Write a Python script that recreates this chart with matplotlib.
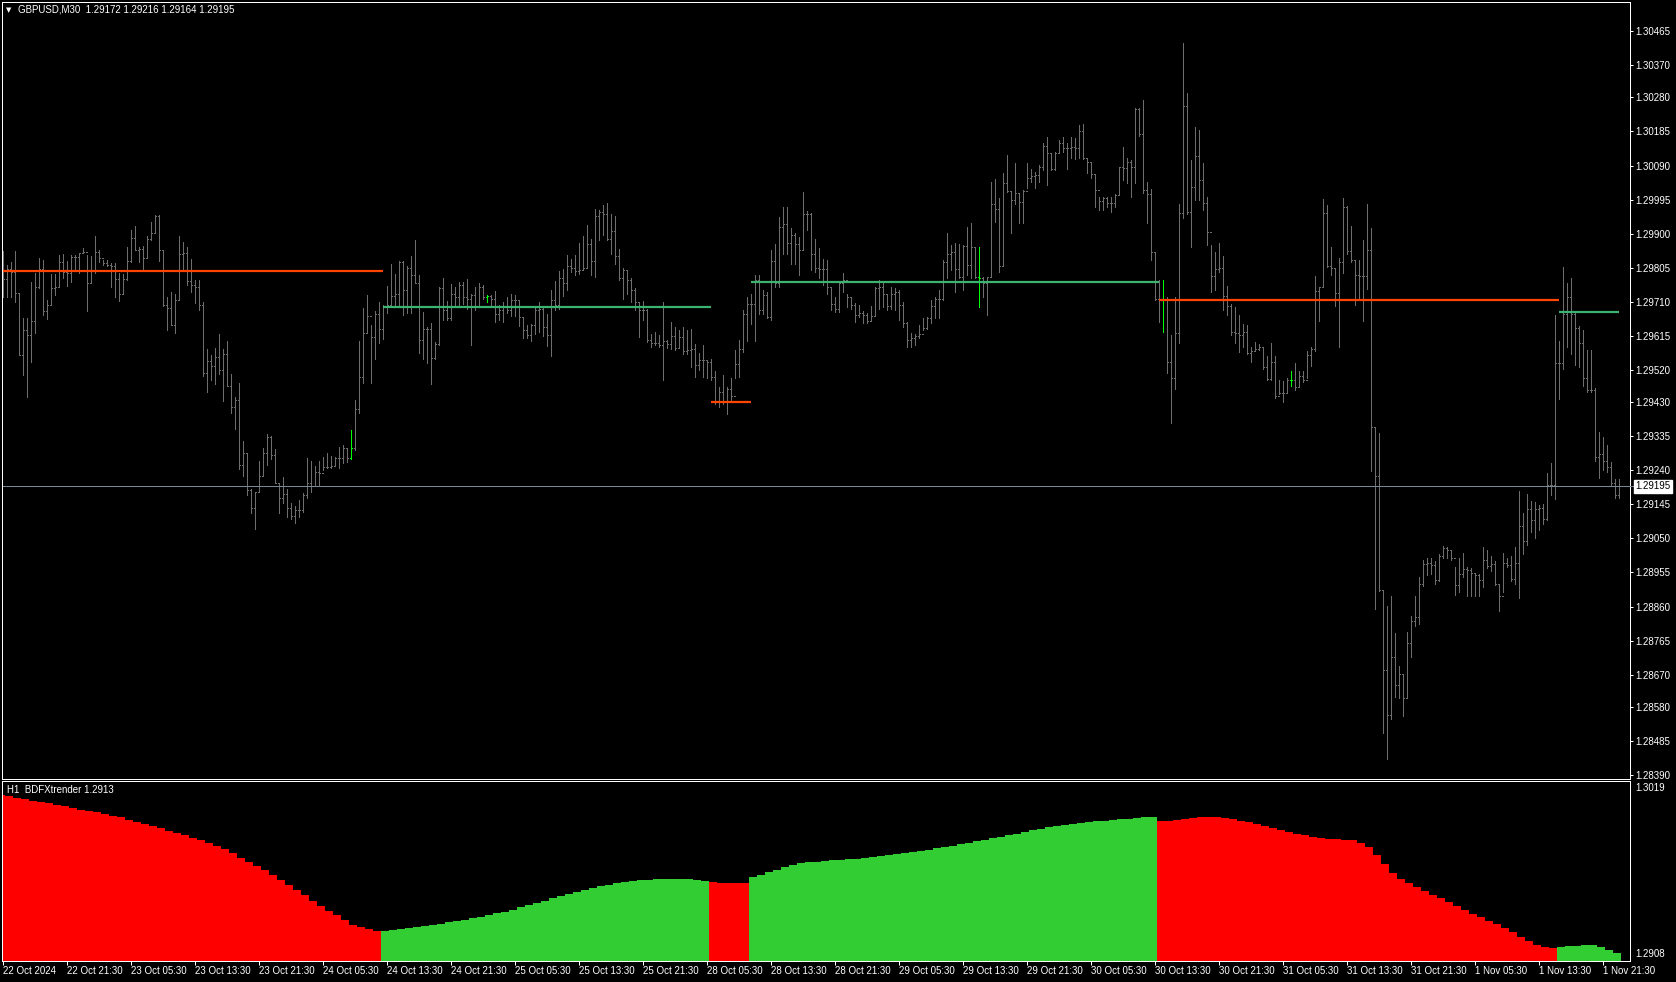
import matplotlib
matplotlib.use("Agg")
import matplotlib.pyplot as plt
import numpy as np

# ---------------- data ----------------
symbol_header = "GBPUSD,M30  1.29172 1.29216 1.29164 1.29195"
indicator_label = "H1  BDFXtrender 1.2913"
first_open = 1.29780

bar_high = [
1.29852,1.29813,1.29822,1.29852,1.29734,1.29664,1.29664,1.29764,1.29790,1.29831,
1.29827,1.29715,1.29788,1.29788,1.29841,1.29843,1.29825,1.29840,1.29841,1.29847,
1.29859,1.29841,1.29838,1.29894,1.29855,1.29827,1.29827,1.29819,1.29817,1.29790,
1.29788,1.29862,1.29909,1.29920,1.29862,1.29866,1.29892,1.29932,1.29952,1.29952,
1.29855,1.29723,1.29738,1.29732,1.29892,1.29878,1.29862,1.29829,1.29771,1.29771,
1.29710,1.29577,1.29562,1.29582,1.29619,1.29577,1.29601,1.29508,1.29445,1.29484,
1.29322,1.29289,1.29187,1.29180,1.29267,1.29303,1.29340,1.29336,1.29298,1.29205,
1.29222,1.29187,1.29150,1.29140,1.29157,1.29176,1.29273,1.29267,1.29252,1.29267,
1.29278,1.29287,1.29280,1.29278,1.29306,1.29311,1.29301,1.29352,1.29436,1.29601,
1.29692,1.29729,1.29645,1.29685,1.29709,1.29701,1.29754,1.29816,1.29788,1.29825,
1.29825,1.29809,1.29837,1.29882,1.29784,1.29682,1.29640,1.29651,1.29598,1.29751,
1.29777,1.29712,1.29759,1.29750,1.29765,1.29765,1.29773,1.29733,1.29751,1.29763,
1.29756,1.29728,1.29728,1.29739,1.29700,1.29710,1.29723,1.29731,1.29728,1.29714,
1.29668,1.29644,1.29649,1.29696,1.29710,1.29697,1.29677,1.29742,1.29768,1.29796,
1.29800,1.29840,1.29830,1.29840,1.29874,1.29893,1.29923,1.29886,1.29970,1.29965,
1.29979,1.29986,1.29956,1.29949,1.29856,1.29803,1.29798,1.29775,1.29747,1.29710,
1.29712,1.29691,1.29621,1.29626,1.29617,1.29708,1.29603,1.29654,1.29640,1.29630,
1.29640,1.29632,1.29633,1.29591,1.29568,1.29589,1.29547,1.29549,1.29517,1.29471,
1.29507,1.29471,1.29498,1.29575,1.29603,1.29686,1.29722,1.29733,1.29784,1.29784,
1.29742,1.29737,1.29854,1.29870,1.29945,1.29973,1.29973,1.29917,1.29902,1.29891,
1.30015,1.29963,1.29958,1.29886,1.29859,1.29828,1.29826,1.29752,1.29724,1.29769,
1.29791,1.29733,1.29724,1.29707,1.29701,1.29685,1.29678,1.29698,1.29752,1.29772,
1.29761,1.29733,1.29752,1.29747,1.29743,1.29710,1.29654,1.29622,1.29620,1.29645,
1.29664,1.29668,1.29715,1.29724,1.29743,1.29826,1.29903,1.29868,1.29873,1.29871,
1.29868,1.29919,1.29930,1.29863,1.29862,1.29780,1.29780,1.30045,1.30051,1.29998,
1.30070,1.30119,1.30017,1.30096,1.30012,1.30022,1.30098,1.30079,1.30073,1.30091,
1.30152,1.30170,1.30124,1.30129,1.30161,1.30170,1.30152,1.30169,1.30166,1.30203,
1.30206,1.30110,1.30101,1.30066,1.30003,1.30003,1.30003,1.30003,1.30010,1.30087,
1.30142,1.30110,1.30105,1.30249,1.30249,1.30273,1.30045,1.30024,1.29850,1.29772,
1.29772,1.29722,1.29617,1.29724,1.29984,1.30433,1.30293,1.30105,1.30198,1.30189,
1.30098,1.30003,1.29868,1.29850,1.29873,1.29837,1.29755,1.29703,1.29696,1.29672,
1.29647,1.29645,1.29585,1.29597,1.29593,1.29585,1.29559,1.29595,1.29559,1.29492,
1.29490,1.29497,1.29518,1.29538,1.29518,1.29518,1.29572,1.29585,1.29781,1.29752,
1.29997,1.29979,1.29863,1.29801,1.29832,1.29999,1.29977,1.29920,1.29827,1.29827,
1.29882,1.29982,1.29915,1.29360,1.29345,1.28906,1.28862,1.28888,1.28785,1.28695,
1.28671,1.28790,1.28833,1.28888,1.28943,1.28991,1.28996,1.28996,1.28988,1.29007,
1.29029,1.29027,1.29017,1.28971,1.28996,1.29009,1.28971,1.28967,1.28950,1.28950,
1.29025,1.29017,1.29002,1.28988,1.28924,1.29009,1.28996,1.29002,1.29027,1.29182,
1.29120,1.29174,1.29153,1.29151,1.29143,1.29146,1.29232,1.29260,1.29672,1.29600,
1.29806,1.29762,1.29776,1.29680,1.29641,1.29631,1.29576,1.29576,1.29469,1.29347,
1.29332,1.29311,1.29263,1.29215,1.29216]

bar_low = [
1.29722,1.29724,1.29724,1.29710,1.29562,1.29506,1.29445,1.29543,1.29624,1.29748,
1.29673,1.29661,1.29701,1.29729,1.29752,1.29776,1.29755,1.29766,1.29796,1.29791,
1.29845,1.29685,1.29766,1.29790,1.29822,1.29813,1.29810,1.29752,1.29723,1.29713,
1.29732,1.29771,1.29822,1.29855,1.29822,1.29802,1.29831,1.29882,1.29903,1.29825,
1.29697,1.29630,1.29645,1.29622,1.29715,1.29801,1.29757,1.29738,1.29706,1.29687,
1.29503,1.29457,1.29492,1.29481,1.29509,1.29434,1.29475,1.29401,1.29354,1.29243,
1.29224,1.29171,1.29122,1.29075,1.29180,1.29227,1.29255,1.29271,1.29204,1.29120,
1.29149,1.29111,1.29103,1.29092,1.29111,1.29125,1.29162,1.29180,1.29196,1.29199,
1.29241,1.29246,1.29246,1.29255,1.29246,1.29259,1.29264,1.29271,1.29297,1.29401,
1.29484,1.29622,1.29484,1.29550,1.29596,1.29605,1.29678,1.29701,1.29697,1.29698,
1.29673,1.29679,1.29679,1.29761,1.29567,1.29551,1.29539,1.29480,1.29551,1.29589,
1.29658,1.29658,1.29660,1.29697,1.29696,1.29703,1.29691,1.29589,1.29688,1.29696,
1.29719,1.29710,1.29697,1.29654,1.29658,1.29654,1.29679,1.29670,1.29670,1.29643,
1.29610,1.29610,1.29601,1.29619,1.29626,1.29614,1.29587,1.29558,1.29688,1.29691,
1.29725,1.29742,1.29793,1.29784,1.29787,1.29800,1.29805,1.29784,1.29779,1.29883,
1.29896,1.29882,1.29843,1.29816,1.29772,1.29719,1.29733,1.29710,1.29686,1.29612,
1.29660,1.29598,1.29584,1.29589,1.29584,1.29491,1.29582,1.29579,1.29575,1.29584,
1.29564,1.29565,1.29528,1.29500,1.29519,1.29500,1.29496,1.29493,1.29426,1.29417,
1.29426,1.29398,1.29431,1.29496,1.29500,1.29570,1.29601,1.29647,1.29601,1.29677,
1.29677,1.29666,1.29660,1.29751,1.29751,1.29844,1.29844,1.29816,1.29816,1.29784,
1.29854,1.29909,1.29798,1.29793,1.29775,1.29757,1.29733,1.29687,1.29682,1.29682,
1.29738,1.29696,1.29691,1.29654,1.29668,1.29650,1.29650,1.29659,1.29673,1.29691,
1.29696,1.29687,1.29691,1.29687,1.29659,1.29640,1.29583,1.29585,1.29589,1.29608,
1.29631,1.29633,1.29650,1.29664,1.29664,1.29715,1.29775,1.29798,1.29738,1.29775,
1.29743,1.29784,1.29775,1.29775,1.29694,1.29724,1.29673,1.29780,1.29933,1.29794,
1.29812,1.30017,1.29901,1.29984,1.29929,1.29929,1.30026,1.30045,1.30026,1.30045,
1.30077,1.30036,1.30077,1.30077,1.30124,1.30129,1.30079,1.30110,1.30107,1.30110,
1.30107,1.30068,1.30054,1.29975,1.29966,1.29966,1.29973,1.29961,1.29975,1.30008,
1.30049,1.30042,1.30001,1.30040,1.30172,1.30012,1.29929,1.29826,1.29715,1.29654,
1.29626,1.29512,1.29371,1.29468,1.29596,1.29943,1.29956,1.29863,1.29994,1.29994,
1.29966,1.29868,1.29738,1.29743,1.29794,1.29688,1.29672,1.29616,1.29595,1.29569,
1.29585,1.29564,1.29541,1.29572,1.29576,1.29523,1.29492,1.29492,1.29442,1.29452,
1.29430,1.29456,1.29476,1.29463,1.29471,1.29487,1.29497,1.29531,1.29574,1.29655,
1.29750,1.29806,1.29786,1.29698,1.29583,1.29789,1.29843,1.29822,1.29700,1.29714,
1.29657,1.29745,1.29239,1.28854,1.28903,1.28506,1.28434,1.28547,1.28609,1.28606,
1.28555,1.28604,1.28720,1.28805,1.28811,1.28916,1.28947,1.28950,1.28924,1.28932,
1.28996,1.28996,1.28991,1.28891,1.28901,1.28943,1.28888,1.28888,1.28888,1.28888,
1.28914,1.28967,1.28960,1.28919,1.28847,1.28901,1.28971,1.28932,1.28924,1.28883,
1.29007,1.29032,1.29069,1.29050,1.29074,1.29091,1.29100,1.29170,1.29159,1.29438,
1.29523,1.29585,1.29564,1.29533,1.29528,1.29476,1.29459,1.29459,1.29267,1.29218,
1.29242,1.29234,1.29198,1.29164,1.29164]

bar_close = [
1.29773,1.29801,1.29794,1.29734,1.29562,1.29631,1.29617,1.29655,1.29752,1.29802,
1.29683,1.29701,1.29748,1.29752,1.29822,1.29794,1.29790,1.29836,1.29836,1.29845,
1.29850,1.29762,1.29799,1.29850,1.29831,1.29817,1.29813,1.29810,1.29773,1.29732,
1.29773,1.29825,1.29889,1.29855,1.29856,1.29831,1.29886,1.29903,1.29949,1.29855,
1.29701,1.29692,1.29645,1.29715,1.29843,1.29845,1.29769,1.29757,1.29750,1.29701,
1.29511,1.29546,1.29531,1.29557,1.29520,1.29564,1.29475,1.29416,1.29436,1.29255,
1.29287,1.29185,1.29134,1.29180,1.29224,1.29287,1.29334,1.29283,1.29204,1.29162,
1.29174,1.29134,1.29113,1.29129,1.29129,1.29171,1.29204,1.29196,1.29236,1.29232,
1.29250,1.29250,1.29252,1.29273,1.29273,1.29301,1.29273,1.29301,1.29410,1.29499,
1.29622,1.29669,1.29613,1.29676,1.29633,1.29697,1.29701,1.29726,1.29732,1.29822,
1.29743,1.29803,1.29786,1.29763,1.29604,1.29633,1.29633,1.29554,1.29591,1.29747,
1.29688,1.29666,1.29731,1.29723,1.29756,1.29723,1.29719,1.29728,1.29697,1.29750,
1.29723,1.29725,1.29719,1.29675,1.29688,1.29696,1.29686,1.29716,1.29714,1.29668,
1.29632,1.29617,1.29644,1.29686,1.29691,1.29640,1.29616,1.29714,1.29700,1.29777,
1.29761,1.29809,1.29805,1.29796,1.29798,1.29805,1.29870,1.29824,1.29949,1.29959,
1.29956,1.29886,1.29908,1.29837,1.29775,1.29798,1.29770,1.29742,1.29710,1.29688,
1.29688,1.29603,1.29595,1.29595,1.29589,1.29601,1.29593,1.29614,1.29582,1.29612,
1.29573,1.29575,1.29579,1.29533,1.29547,1.29547,1.29542,1.29500,1.29433,1.29458,
1.29433,1.29468,1.29446,1.29536,1.29579,1.29675,1.29705,1.29703,1.29770,1.29686,
1.29728,1.29668,1.29824,1.29761,1.29919,1.29926,1.29874,1.29896,1.29872,1.29854,
1.29954,1.29956,1.29844,1.29803,1.29800,1.29800,1.29752,1.29705,1.29689,1.29761,
1.29772,1.29724,1.29701,1.29673,1.29679,1.29673,1.29657,1.29670,1.29747,1.29752,
1.29733,1.29698,1.29733,1.29738,1.29701,1.29651,1.29603,1.29608,1.29614,1.29620,
1.29636,1.29664,1.29698,1.29717,1.29719,1.29822,1.29843,1.29850,1.29800,1.29778,
1.29865,1.29812,1.29863,1.29778,1.29775,1.29761,1.29778,1.29983,1.29970,1.29810,
1.30040,1.30020,1.29994,1.30012,1.29989,1.30020,1.30054,1.30061,1.30063,1.30087,
1.30144,1.30126,1.30079,1.30126,1.30152,1.30138,1.30138,1.30141,1.30138,1.30187,
1.30110,1.30101,1.30066,1.30023,1.29992,1.29998,1.29986,1.29986,1.30008,1.30085,
1.30082,1.30101,1.30087,1.30247,1.30178,1.30022,1.30010,1.29850,1.29717,1.29715,
1.29715,1.29543,1.29496,1.29624,1.29958,1.30256,1.29960,1.30031,1.30116,1.30049,
1.29986,1.29905,1.29782,1.29800,1.29803,1.29727,1.29698,1.29626,1.29624,1.29616,
1.29626,1.29566,1.29574,1.29579,1.29583,1.29528,1.29494,1.29541,1.29448,1.29456,
1.29456,1.29492,1.29492,1.29473,1.29502,1.29492,1.29562,1.29579,1.29741,1.29750,
1.29958,1.29810,1.29803,1.29734,1.29820,1.29975,1.29851,1.29827,1.29786,1.29783,
1.29783,1.29853,1.29360,1.29223,1.28906,1.28682,1.28558,1.28718,1.28640,1.28671,
1.28604,1.28759,1.28821,1.28831,1.28924,1.28978,1.28981,1.28976,1.28934,1.29002,
1.29022,1.29017,1.28996,1.28919,1.28950,1.28965,1.28963,1.28953,1.28947,1.28934,
1.28991,1.28974,1.28978,1.28922,1.28888,1.28981,1.28976,1.28937,1.28981,1.29084,
1.29043,1.29133,1.29100,1.29131,1.29136,1.29105,1.29198,1.29198,1.29538,1.29538,
1.29675,1.29724,1.29675,1.29638,1.29595,1.29497,1.29463,1.29463,1.29277,1.29285,
1.29265,1.29249,1.29205,1.29172,1.29195]

signal_bars = [87, 121, 244, 290, 322]

# horizontal trend levels: (first bar, last bar, price, kind)
level_start = [0, 95, 177, 187, 289, 389]
level_end   = [95, 177, 187, 289, 389, 404]
level_price = [1.29797, 1.29696, 1.29431, 1.29765, 1.29714, 1.29681]
level_kind  = ["down", "up", "down", "up", "down", "up"]

current_price = 1.29195

price_ticks = [1.30465,1.30370,1.30280,1.30185,1.30090,1.29995,1.29900,1.29805,
               1.29710,1.29615,1.29520,1.29430,1.29335,1.29240,1.29145,1.29050,
               1.28955,1.28860,1.28765,1.28670,1.28580,1.28485,1.28390]

time_labels = ['22 Oct 2024','22 Oct 21:30','23 Oct 05:30','23 Oct 13:30','23 Oct 21:30',
               '24 Oct 05:30','24 Oct 13:30','24 Oct 21:30','25 Oct 05:30','25 Oct 13:30',
               '25 Oct 21:30','28 Oct 05:30','28 Oct 13:30','28 Oct 21:30','29 Oct 05:30',
               '29 Oct 13:30','29 Oct 21:30','30 Oct 05:30','30 Oct 13:30','30 Oct 21:30',
               '31 Oct 05:30','31 Oct 13:30','31 Oct 21:30','1 Nov 05:30','1 Nov 13:30',
               '1 Nov 21:30']
time_label_bars = list(range(0, 401, 16))

# BDFXtrender values, one per H1 bar
trend_h1 = [
1.30105,1.30095,1.30086,1.30077,1.30068,1.30060,1.30052,1.30044,1.30034,1.30024,
1.30014,1.30004,1.29996,1.29988,1.29977,1.29965,1.29952,1.29938,1.29925,1.29911,
1.29898,1.29884,1.29870,1.29855,1.29840,1.29825,1.29810,1.29792,1.29770,1.29745,
1.29718,1.29692,1.29665,1.29640,1.29612,1.29582,1.29550,1.29518,1.29485,1.29452,
1.29420,1.29390,1.29362,1.29335,1.29305,1.29288,1.29276,1.29268,1.29267,1.29272,
1.29278,1.29284,1.29290,1.29295,1.29302,1.29310,1.29318,1.29326,1.29335,1.29343,
1.29351,1.29362,1.29373,1.29385,1.29397,1.29410,1.29424,1.29438,1.29452,1.29466,
1.29480,1.29494,1.29508,1.29520,1.29530,1.29540,1.29550,1.29560,1.29568,1.29575,
1.29579,1.29582,1.29584,1.29586,1.29586,1.29585,1.29583,1.29578,1.29572,1.29565,
1.29562,1.29561,1.29560,1.29561,1.29595,1.29612,1.29628,1.29644,1.29658,1.29671,
1.29682,1.29688,1.29692,1.29696,1.29700,1.29703,1.29706,1.29710,1.29716,1.29722,
1.29728,1.29733,1.29738,1.29743,1.29750,1.29758,1.29766,1.29775,1.29784,1.29792,
1.29800,1.29809,1.29818,1.29827,1.29836,1.29845,1.29854,1.29864,1.29875,1.29886,
1.29896,1.29905,1.29913,1.29920,1.29926,1.29931,1.29936,1.29941,1.29946,1.29950,
1.29954,1.29958,1.29962,1.29966,1.29968,1.29944,1.29946,1.29950,1.29955,1.29960,
1.29965,1.29967,1.29966,1.29962,1.29956,1.29946,1.29935,1.29924,1.29912,1.29900,
1.29888,1.29876,1.29864,1.29854,1.29846,1.29840,1.29835,1.29831,1.29828,1.29825,
1.29810,1.29780,1.29735,1.29680,1.29625,1.29585,1.29560,1.29535,1.29510,1.29488,
1.29466,1.29442,1.29418,1.29395,1.29372,1.29350,1.29328,1.29306,1.29282,1.29256,
1.29230,1.29203,1.29180,1.29168,1.29162,1.29165,1.29170,1.29175,1.29180,1.29178,
1.29165,1.29150,1.29130]
# trend state per H1 bar: first H1 index of each state run
state_start = [0, 48, 89, 94, 145, 195]
state_kind  = ["down", "up", "down", "up", "down", "up"]
trend_min, trend_max = 1.2908, 1.3019

# ---------------- drawing ----------------
W, H = 1676, 982
fig = plt.figure(figsize=(W / 100, H / 100), dpi=100, facecolor="black")
FONT = "Liberation Sans"
PX = 0.72  # one pixel in points

def fx(px):
    return px / W

def fy(py):
    return 1 - py / H

n = len(bar_close)
x = np.arange(n)
opens = [first_open] + bar_close[:-1]

ax = fig.add_axes([fx(2), fy(779), fx(1628), (779 - 2) / H])
ax.set_facecolor("black")
ax.set_xlim(-0.325, 406.7)
ax.set_ylim(1.28379, 1.30546)

bar_colors = ["#00ff00" if i in signal_bars else "#6e6e6e" for i in range(n)]
ax.vlines(x, bar_low, bar_high, colors=bar_colors, lw=PX, antialiased=False)
ax.hlines(opens, x - 0.3, x, colors=bar_colors, lw=PX, antialiased=False)
ax.hlines(bar_close, x, x + 0.3, colors=bar_colors, lw=PX, antialiased=False)

kind_color = {"down": "#ff4500", "up": "#3cb371"}
for s, e, p, k in zip(level_start, level_end, level_price, level_kind):
    ax.hlines(p, s, e, colors=kind_color[k], lw=1.6)

ax.axhline(current_price, color="#778899", lw=PX)

for sp in ax.spines.values():
    sp.set_color("white")
    sp.set_linewidth(PX)
ax.set_xticks([])
ax.yaxis.tick_right()
ax.set_yticks(price_ticks)
ax.set_yticklabels([f"{t:.5f}" for t in price_ticks])
ax.tick_params(axis="y", direction="out", length=3 * PX, width=PX, colors="white",
               labelsize=7, pad=2)
for lbl in ax.get_yticklabels():
    lbl.set_fontfamily(FONT)

# current price marker in the scale
y_cur = ax.transData.transform((0, current_price))[1]
fig.add_artist(plt.Line2D([fx(1630), fx(1633)], [y_cur / H, y_cur / H],
                          color="#778899", lw=PX, transform=fig.transFigure))
fig.text(fx(1635), y_cur / H, f"{current_price:.5f}", color="black", fontsize=7,
         fontfamily=FONT, va="center", ha="left",
         bbox=dict(boxstyle="square,pad=0.15", fc="white", ec="white"))

# header
fig.text(fx(6), fy(10), "\u25bc", color="white", fontsize=5, va="center", ha="left",
         fontfamily="DejaVu Sans")
fig.text(fx(18), fy(10), symbol_header, color="white", fontsize=7, va="center",
         ha="left", fontfamily=FONT)

# ---------------- indicator ----------------
ax2 = fig.add_axes([fx(2), fy(961), fx(1628), (961 - 781) / H])
ax2.set_facecolor("black")
ax2.set_xlim(-0.325, 406.7)
ax2.set_ylim(trend_min, trend_max)

h_idx = [(i + 1) // 2 for i in range(n)]
vals = [trend_h1[h] for h in h_idx]
state = []
for h in range(len(trend_h1)):
    k = state_kind[0]
    for s, kk in zip(state_start, state_kind):
        if h >= s:
            k = kk
    state.append(k)
ind_color = {"down": "#ff0000", "up": "#32cd32"}
cols = [ind_color[state[h]] for h in h_idx]
ax2.bar(x, np.array(vals) - trend_min, bottom=trend_min, width=1.0, color=cols,
        linewidth=0, antialiased=False)

for sp in ax2.spines.values():
    sp.set_color("white")
    sp.set_linewidth(PX)
ax2.set_yticks([])
ax2.set_xticks(time_label_bars)
ax2.set_xticklabels(time_labels)
ax2.tick_params(axis="x", direction="out", length=4 * PX, width=PX, colors="white",
                labelsize=7, pad=1)
for lbl in ax2.get_xticklabels():
    lbl.set_ha("left")
    lbl.set_fontfamily(FONT)

fig.text(fx(7), fy(790), indicator_label, color="white", fontsize=7, va="center",
         ha="left", fontfamily=FONT)
fig.text(fx(1635), fy(788), f"{trend_max:.4f}", color="white", fontsize=7,
         va="center", ha="left", fontfamily=FONT)
fig.text(fx(1635), fy(954), f"{trend_min:.4f}", color="white", fontsize=7,
         va="center", ha="left", fontfamily=FONT)

fig.savefig("out.png", dpi=100, facecolor="black")
